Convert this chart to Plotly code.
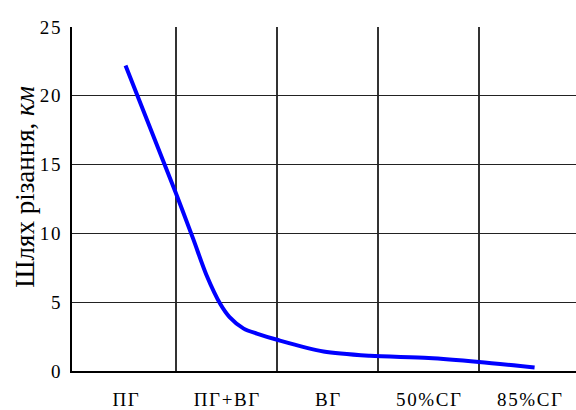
import plotly.graph_objects as go

# Category labels along the x axis
categories = ["ПГ", "ПГ+ВГ", "ВГ", "50%СГ", "85%СГ"]
category_pos = [0, 1, 2, 3, 4]

# Cutting path curve (km), sampled along the category axis
curve_pos = [0.0, 0.5, 0.67, 0.8, 0.94, 1.03, 1.17, 1.30, 1.51, 1.96, 2.42, 3.0, 3.5, 4.05]
curve_km = [22.2, 12.9, 9.6, 7.0, 4.85, 3.92, 3.08, 2.72, 2.25, 1.42, 1.11, 0.95, 0.66, 0.26]

y_ticks = [0, 5, 10, 15, 20, 25]

HS = "\u200a"  # hair space for slightly wider letter spacing


def spaced(s):
    return HS.join(list(s))


FONT = "Liberation Serif"

fig = go.Figure()
fig.add_trace(go.Scatter(
    x=curve_pos, y=curve_km, mode="lines",
    line=dict(color="#0000ff", width=4, shape="spline", smoothing=0.8),
    showlegend=False, hoverinfo="skip",
))

fig.update_layout(
    width=576, height=410,
    margin=dict(l=72, r=0, t=27, b=32),
    paper_bgcolor="white", plot_bgcolor="white",
    font=dict(family=FONT, color="black", size=19),
    xaxis=dict(
        range=[-0.53, 4.46],
        tickvals=category_pos,
        ticktext=[spaced(c) for c in categories],
        showgrid=False, zeroline=False,
        showline=True, linecolor="black", linewidth=1.5,
        ticks="", ticklabelstandoff=10,
        tickfont=dict(family=FONT, size=19, color="black"),
        minor=dict(tickvals=[0.5, 1.5, 2.5, 3.5], showgrid=True,
                   gridcolor="#333333", gridwidth=1.5, ticks=""),
    ),
    yaxis=dict(
        range=[0, 25],
        tickvals=y_ticks,
        ticktext=[spaced(str(v)) for v in y_ticks],
        showgrid=True, gridcolor="#222222", gridwidth=1.2,
        zeroline=False,
        showline=True, linecolor="black", linewidth=1.5,
        ticks="", ticklabelstandoff=6,
        tickfont=dict(family=FONT, size=19, color="black"),
    ),
)

fig.add_annotation(
    text="Шлях різання, <i>км</i>",
    xref="paper", yref="paper",
    x=(25 - 72) / 504, y=(378 - 190) / 351,
    xanchor="center", yanchor="middle",
    textangle=-90, showarrow=False,
    font=dict(family=FONT, size=27, color="black"),
)

fig.write_html("out.html")
